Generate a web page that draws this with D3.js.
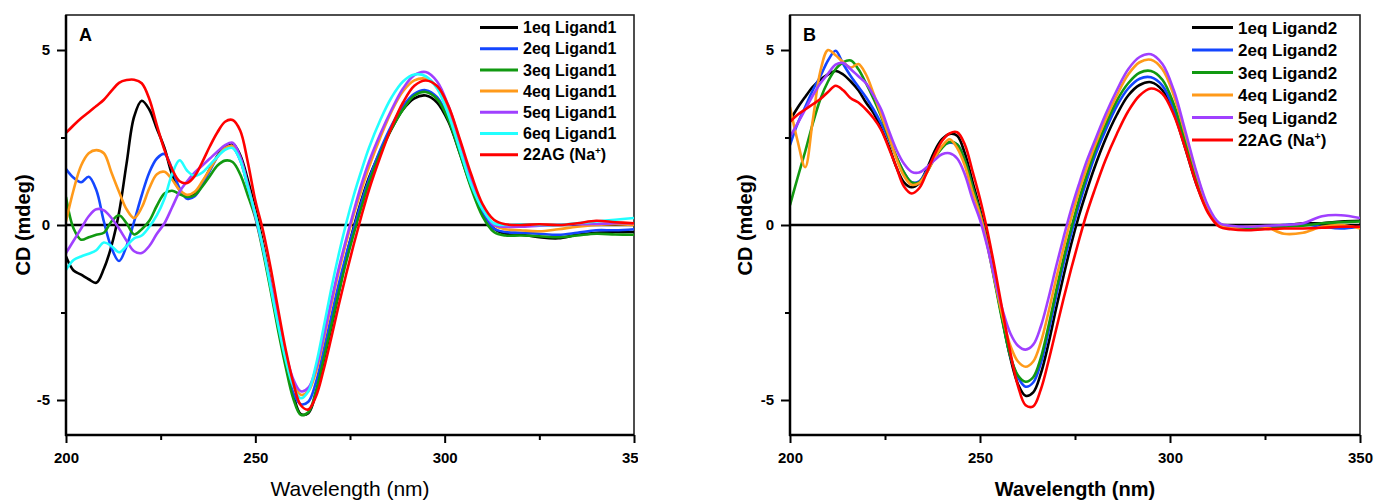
<!DOCTYPE html>
<html>
<head>
<meta charset="utf-8">
<script src="https://cdn.jsdelivr.net/npm/d3@7"></script>
<style>
body { margin: 0; background: #fff; }
svg { display: block; font-family: "Liberation Sans", Arial, sans-serif; }
</style>
</head>
<body>
<svg id="chart" width="1375" height="500"></svg>
<script>
// wavelength grid (nm), shared by both panels
const wavelengths = [
	200,202,204,206,208,210,212,214,216,218,
	220,222,224,226,228,230,232,234,236,238,
	240,242,244,246,248,250,252,254,256,258,
	260,262,264,266,268,270,272,274,276,278,
	280,283,286,289,292,295,298,301,304,307,
	310,313,316,320,325,330,335,340,345,350
]

const xTicks = [200, 250, 300, 350]
const xMinorTicks = [225, 275, 325]
const yTicks = [-5, 0, 5]
const yMinorTicks = [-2.5, 2.5]

const colors = ['#000000', '#1446ff', '#119911', '#ff9a1a', '#a040ff', '#22ffff', '#ff0000']

// ---------- Panel A : Ligand1 ----------
const labelsA = ['1eq Ligand1', '2eq Ligand1', '3eq Ligand1', '4eq Ligand1', '5eq Ligand1', '6eq Ligand1', '22AG (Na+)']

const a1eq = [
	-0.9,-1.3,-1.42,-1.55,-1.65,-1.25,-0.6,0.35,1.76,3.1,
	3.55,3.3,2.75,2.2,1.45,1.0,0.82,0.9,1.2,1.6,
	1.98,2.25,2.33,2.0,1.3,0.45,-0.5,-1.6,-2.8,-3.9,
	-4.85,-5.4,-5.38,-4.8,-3.9,-2.95,-1.95,-0.9,-0.05,0.7,
	1.35,2.1,2.75,3.3,3.62,3.7,3.5,2.95,2.05,1.1,
	0.35,-0.1,-0.25,-0.27,-0.35,-0.38,-0.28,-0.22,-0.2,-0.2
]
const a2eq = [
	1.6,1.35,1.22,1.38,1.0,0.1,-0.65,-1.03,-0.6,0.1,
	0.85,1.5,1.9,2.03,1.6,1.05,0.75,0.82,1.15,1.55,
	1.95,2.2,2.22,1.85,1.1,0.3,-0.65,-1.75,-2.9,-3.95,
	-4.8,-5.12,-5.05,-4.5,-3.6,-2.65,-1.7,-0.85,-0.1,0.65,
	1.3,2.15,2.85,3.4,3.75,3.85,3.65,3.05,2.1,1.15,
	0.35,-0.1,-0.2,-0.22,-0.25,-0.28,-0.22,-0.15,-0.15,-0.12
]
const a3eq = [
	0.8,-0.1,-0.42,-0.35,-0.28,-0.22,0.1,0.28,0.05,-0.27,
	-0.12,0.12,0.55,0.9,0.98,0.88,0.8,0.85,1.1,1.4,
	1.7,1.84,1.8,1.45,0.85,0.2,-0.75,-1.85,-3.0,-4.05,
	-4.95,-5.42,-5.35,-4.75,-3.85,-2.9,-1.95,-1.05,-0.25,0.5,
	1.2,2.05,2.75,3.3,3.7,3.8,3.6,3.0,2.05,1.05,
	0.25,-0.2,-0.3,-0.3,-0.32,-0.35,-0.3,-0.25,-0.27,-0.28
]
const a4eq = [
	0.1,1.0,1.7,2.05,2.14,2.05,1.5,0.95,0.45,0.2,
	0.5,1.05,1.45,1.52,1.3,1.0,0.86,0.95,1.25,1.6,
	1.95,2.2,2.25,1.9,1.15,0.3,-0.6,-1.65,-2.75,-3.75,
	-4.5,-4.85,-4.75,-4.2,-3.3,-2.3,-1.35,-0.5,0.3,1.0,
	1.65,2.5,3.25,3.82,4.13,4.18,3.95,3.3,2.35,1.35,
	0.5,0.0,-0.12,-0.15,-0.18,-0.12,-0.05,0.0,0.02,0.0
]
const a5eq = [
	-0.8,-0.45,-0.1,0.25,0.45,0.42,0.2,-0.1,-0.45,-0.75,
	-0.8,-0.6,-0.25,0.05,0.5,0.95,1.25,1.5,1.7,1.9,
	2.1,2.28,2.35,1.95,1.15,0.25,-0.65,-1.65,-2.7,-3.65,
	-4.4,-4.75,-4.65,-4.1,-3.2,-2.2,-1.25,-0.4,0.4,1.15,
	1.8,2.6,3.3,3.9,4.28,4.37,4.1,3.4,2.4,1.35,
	0.5,0.0,-0.05,-0.05,-0.02,0.0,0.02,0.03,0.05,0.05
]
const a6eq = [
	-1.28,-1.0,-0.9,-0.82,-0.72,-0.5,-0.6,-0.78,-0.6,-0.38,
	-0.3,-0.05,0.28,0.75,1.45,1.85,1.55,1.4,1.5,1.72,
	1.95,2.15,2.2,1.85,1.1,0.3,-0.65,-1.75,-2.85,-3.85,
	-4.6,-4.95,-4.75,-4.0,-2.95,-1.85,-0.85,0.05,0.85,1.55,
	2.2,3.0,3.65,4.1,4.3,4.25,3.9,3.15,2.15,1.15,
	0.45,0.05,0.0,0.02,0.0,0.0,0.05,0.1,0.15,0.2
]
const aNa = [
	2.63,2.85,3.05,3.22,3.4,3.58,3.83,4.06,4.14,4.15,
	4.05,3.6,2.85,2.15,1.6,1.25,1.2,1.4,1.8,2.25,
	2.65,2.95,3.0,2.7,1.8,0.7,-0.15,-1.2,-2.4,-3.55,
	-4.5,-5.15,-5.27,-4.9,-4.15,-3.25,-2.3,-1.4,-0.55,0.25,
	1.0,1.95,2.8,3.5,3.98,4.13,3.97,3.4,2.45,1.45,
	0.6,0.15,0.02,0.0,0.02,0.0,0.05,0.12,0.08,0.05
]

// ---------- Panel B : Ligand2 ----------
const labelsB = ['1eq Ligand2', '2eq Ligand2', '3eq Ligand2', '4eq Ligand2', '5eq Ligand2', '22AG (Na+)']

const b1eq = [
	2.99,3.35,3.66,3.95,4.15,4.3,4.4,4.3,4.1,3.85,
	3.5,3.2,2.75,2.25,1.65,1.22,1.08,1.2,1.6,2.1,
	2.45,2.6,2.55,2.05,1.25,0.45,-0.45,-1.6,-2.75,-3.8,
	-4.55,-4.88,-4.78,-4.25,-3.4,-2.4,-1.45,-0.55,0.25,0.95,
	1.6,2.45,3.15,3.7,4.0,4.08,3.85,3.2,2.2,1.15,
	0.4,0.02,-0.05,-0.05,-0.05,-0.02,0.05,0.05,0.1,0.12
]
const b2eq = [
	2.28,2.9,3.37,3.85,4.25,4.7,4.98,4.6,4.25,3.95,
	3.65,3.3,2.9,2.45,1.95,1.5,1.22,1.25,1.55,1.95,
	2.25,2.35,2.3,1.85,1.1,0.35,-0.55,-1.65,-2.75,-3.75,
	-4.35,-4.62,-4.5,-3.95,-3.05,-2.05,-1.1,-0.25,0.55,1.25,
	1.9,2.7,3.4,3.9,4.18,4.22,3.98,3.3,2.3,1.25,
	0.45,0.05,-0.05,-0.05,-0.05,0.0,0.02,-0.05,-0.1,-0.05
]
const b3eq = [
	0.57,1.35,2.1,2.9,3.6,4.1,4.45,4.65,4.7,4.45,
	4.05,3.6,3.1,2.5,1.95,1.5,1.22,1.22,1.5,1.9,
	2.2,2.37,2.3,1.85,1.1,0.35,-0.6,-1.7,-2.8,-3.75,
	-4.3,-4.48,-4.35,-3.8,-2.9,-1.9,-0.95,-0.1,0.7,1.4,
	2.05,2.85,3.55,4.05,4.35,4.4,4.15,3.45,2.4,1.3,
	0.45,0.02,-0.08,-0.1,-0.1,-0.05,-0.02,0.05,0.08,0.1
]
const b4eq = [
	3.37,2.4,1.65,3.0,4.4,5.0,4.85,4.65,4.5,4.6,
	4.3,3.75,3.15,2.55,1.9,1.4,1.15,1.2,1.5,1.9,
	2.25,2.45,2.2,1.7,0.95,0.3,-0.6,-1.65,-2.65,-3.45,
	-3.9,-4.05,-3.9,-3.35,-2.5,-1.55,-0.65,0.2,0.95,1.6,
	2.2,3.0,3.7,4.3,4.65,4.72,4.45,3.7,2.6,1.45,
	0.5,0.0,-0.08,-0.05,-0.05,-0.25,-0.22,-0.05,0.0,-0.1
]
const b5eq = [
	2.52,2.9,3.3,3.7,4.05,4.32,4.58,4.63,4.45,4.25,
	4.05,3.7,3.3,2.7,2.15,1.75,1.52,1.5,1.65,1.85,
	2.02,2.05,1.9,1.45,0.75,0.15,-0.65,-1.6,-2.45,-3.1,
	-3.45,-3.56,-3.42,-2.9,-2.1,-1.2,-0.35,0.45,1.15,1.8,
	2.35,3.15,3.85,4.45,4.8,4.88,4.6,3.85,2.7,1.5,
	0.55,0.05,-0.02,-0.05,-0.02,0.0,0.05,0.25,0.28,0.2
]
const bNa = [
	2.95,3.15,3.3,3.45,3.6,3.8,3.98,3.85,3.62,3.5,
	3.3,3.05,2.72,2.2,1.65,1.1,0.9,1.05,1.5,2.0,
	2.4,2.62,2.65,2.3,1.55,0.75,-0.2,-1.3,-2.5,-3.65,
	-4.6,-5.15,-5.18,-4.7,-3.9,-3.0,-2.1,-1.25,-0.45,0.3,
	0.95,1.85,2.6,3.25,3.7,3.9,3.75,3.15,2.2,1.15,
	0.35,-0.05,-0.12,-0.15,-0.12,-0.1,-0.1,-0.08,-0.05,-0.05
]

const seriesA = [a1eq, a2eq, a3eq, a4eq, a5eq, a6eq, aNa].map((v, i) => ({
	label: labelsA[i], color: colors[i], values: v
}))
const colorsB = [colors[0], colors[1], colors[2], colors[3], colors[4], colors[6]]
const seriesB = [b1eq, b2eq, b3eq, b4eq, b5eq, bNa].map((v, i) => ({
	label: labelsB[i], color: colorsB[i], values: v
}))

const svg = d3.select('#chart')

// plain hyphen like the original figure, not the unicode minus
const tickText = d => String(d)

function renderPanel(cfg) {
	// nested svg so that panel A's last tick label gets cut like the original
	const g = svg.append('svg')
		.attr('x', 0).attr('y', 0)
		.attr('width', cfg.clipWidth).attr('height', 500)

	const x = d3.scaleLinear().domain([200, 350]).range([cfg.left, cfg.right])
	const y = d3.scaleLinear().domain([-6, 6]).range([435, 15])

	const clipId = 'clip-' + cfg.letter
	g.append('clipPath').attr('id', clipId)
		.append('rect')
		.attr('x', x(200)).attr('y', y(6))
		.attr('width', x(350) - x(200)).attr('height', y(-6) - y(6))

	// frame
	g.append('rect')
		.attr('x', x(200)).attr('y', y(6))
		.attr('width', x(350) - x(200)).attr('height', y(-6) - y(6))
		.attr('fill', 'none').attr('stroke', '#222').attr('stroke-width', 1.6)

	// zero line
	g.append('line')
		.attr('x1', x(200)).attr('x2', x(350))
		.attr('y1', y(0)).attr('y2', y(0))
		.attr('stroke', '#000').attr('stroke-width', 2.5)

	// curves
	const line = d3.line()
		.x((d, i) => x(wavelengths[i]))
		.y(d => y(d))
		.curve(d3.curveCatmullRom.alpha(0.5))

	g.append('g').attr('clip-path', `url(#${clipId})`)
		.selectAll('path')
		.data(cfg.series)
		.join('path')
		.attr('d', d => line(d.values))
		.attr('fill', 'none')
		.attr('stroke', d => d.color)
		.attr('stroke-width', 2.6)
		.attr('stroke-linejoin', 'round')

	// axes
	const xAxis = g.append('g').attr('transform', `translate(0,${y(-6)})`)
		.call(d3.axisBottom(x).tickValues(xTicks).tickSize(8).tickPadding(9).tickFormat(tickText))
	const xMinor = g.append('g').attr('transform', `translate(0,${y(-6)})`)
		.call(d3.axisBottom(x).tickValues(xMinorTicks).tickSize(5).tickFormat(''))
	const yAxis = g.append('g').attr('transform', `translate(${x(200)},0)`)
		.call(d3.axisLeft(y).tickValues(yTicks).tickSize(9).tickPadding(7).tickFormat(tickText))
	const yMinor = g.append('g').attr('transform', `translate(${x(200)},0)`)
		.call(d3.axisLeft(y).tickValues(yMinorTicks).tickSize(5).tickFormat(''))

	;[xAxis, xMinor, yAxis, yMinor].forEach(a => {
		a.select('.domain').remove()
		a.selectAll('line').attr('stroke', '#000').attr('stroke-width', 2)
		a.selectAll('text')
			.attr('fill', '#000')
			.style('font-size', '15px')
			.style('font-weight', 'bold')
			.style('font-family', '"Liberation Sans", Arial, sans-serif')
	})

	// heavier left and bottom axis lines
	g.append('line')
		.attr('x1', x(200)).attr('x2', x(200)).attr('y1', y(6)).attr('y2', y(-6) + 1)
		.attr('stroke', '#000').attr('stroke-width', 2.5)
	g.append('line')
		.attr('x1', x(200) - 1).attr('x2', x(350)).attr('y1', y(-6)).attr('y2', y(-6))
		.attr('stroke', '#000').attr('stroke-width', 2.5)

	// panel letter
	g.append('text')
		.attr('x', x(200) + 13).attr('y', 41)
		.attr('font-size', 18).attr('font-weight', 'bold')
		.text(cfg.letter)

	// axis titles
	g.append('text')
		.attr('transform', `translate(${cfg.yTitleX},${y(0)}) rotate(-90)`)
		.attr('text-anchor', 'middle')
		.attr('dominant-baseline', 'central')
		.attr('font-size', 20).attr('font-weight', 'bold')
		.text('CD (mdeg)')

	g.append('text')
		.attr('x', (x(200) + x(350)) / 2).attr('y', 496)
		.attr('text-anchor', 'middle')
		.attr('font-size', cfg.xTitleSize)
		.attr('font-weight', cfg.xTitleWeight)
		.text('Wavelength (nm)')

	// legend
	const leg = g.append('g')
	const rows = leg.selectAll('g')
		.data(cfg.series)
		.join('g')
		.attr('transform', (d, i) => `translate(0,${cfg.legendTop + i * cfg.legendStep})`)

	rows.append('line')
		.attr('x1', cfg.legendX).attr('x2', cfg.legendX + cfg.legendLen)
		.attr('stroke', d => d.color).attr('stroke-width', 3)

	const txt = rows.append('text')
		.attr('x', cfg.legendX + cfg.legendLen + 5)
		.attr('dy', '0.36em')
		.attr('font-size', cfg.legendSize)
		.attr('font-weight', 'bold')

	txt.each(function (d) {
		const t = d3.select(this)
		if (d.label.includes('+')) {
			const parts = d.label.split('+')
			t.append('tspan').text(parts[0])
			t.append('tspan').attr('dy', -6).attr('font-size', cfg.legendSize * 0.62).text('+')
			t.append('tspan').attr('dy', 6).text(parts[1])
		} else {
			t.text(d.label)
		}
	})
}

renderPanel({
	letter: 'A', series: seriesA, left: 66, right: 634, clipWidth: 638,
	yTitleX: 23, xTitleSize: 21, xTitleWeight: 'normal',
	legendX: 480, legendLen: 38, legendTop: 27.5, legendStep: 21.2, legendSize: 16
})

renderPanel({
	letter: 'B', series: seriesB, left: 790, right: 1360, clipWidth: 1375,
	yTitleX: 745, xTitleSize: 20, xTitleWeight: 'bold',
	legendX: 1192, legendLen: 41, legendTop: 27.5, legendStep: 22.5, legendSize: 17
})
</script>
</body>
</html>
